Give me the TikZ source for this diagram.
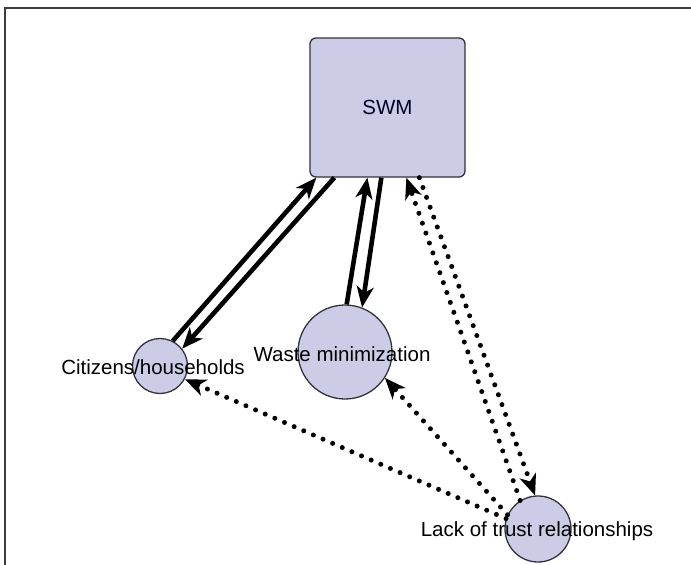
\documentclass[tikz,border=0pt]{standalone}
\usepackage{fontspec}
\setmainfont{Liberation Sans}
\usetikzlibrary{arrows.meta}
\definecolor{nodefill}{RGB}{204,204,230}
\definecolor{nodeline}{RGB}{50,50,64}
\definecolor{framecol}{RGB}{60,60,60}
\begin{document}
\begin{tikzpicture}[x=1pt,y=-1pt,
  box/.style={draw=nodeline,fill=nodefill,line width=1.3pt,rounded corners=6pt,inner sep=0pt,minimum width=155pt,minimum height=139pt},
  blob/.style={draw=nodeline,fill=nodefill,line width=1.3pt,circle,inner sep=0pt},
  lbl/.style={font=\fontsize{20.5}{24}\selectfont,text=black,inner sep=0pt},
  solidarrow/.style={line width=4.6pt,-{Stealth[length=21pt,width=17pt,inset=6pt]}},
  dotarrow/.style={line width=5pt,line cap=round,dash pattern=on 0pt off 10.5pt,-{Stealth[length=21pt,width=17pt,inset=6pt,line cap=butt]}}
  ]
\useasboundingbox (0,0) rectangle (691,565);
\draw[framecol,line width=1.5pt] (5,565) -- (5,8) -- (691,8);
% nodes
\node[box] (swm) at (387.5,107.5) {};
\node[blob,minimum size=55pt] (cit) at (160,366) {};
\node[blob,minimum size=94pt] (waste) at (345,352) {};
\node[blob,minimum size=66pt] (lack) at (538,529) {};
% connectors
\draw[solidarrow] (cit.63) -- ([xshift=7pt]swm.south west);
\draw[solidarrow] ([xshift=25pt]swm.south west) -- (cit.38);
\draw[solidarrow] (waste.88) -- ([xshift=58pt]swm.south west);
\draw[solidarrow] ([xshift=72pt]swm.south west) -- (waste.69);
\draw[dotarrow] (lack.122) -- ([xshift=97pt]swm.south west);
\draw[dotarrow] ([xshift=110pt]swm.south west) -- (lack.95);
\draw[dotarrow] (lack.155) -- (waste.-33);
\draw[dotarrow] (lack.162) -- (cit.-28);
% labels
\node[lbl,text=black!85!blue] (swmlbl) at (swm.center) {SWM};
\node[lbl] (citlbl) at (153,367) {Citizens/households};
\node[lbl] (wastelbl) at (342,354) {Waste minimization};
\node[lbl] (lacklbl) at (537,531) {Lack of trust relationships};
\end{tikzpicture}
\end{document}
